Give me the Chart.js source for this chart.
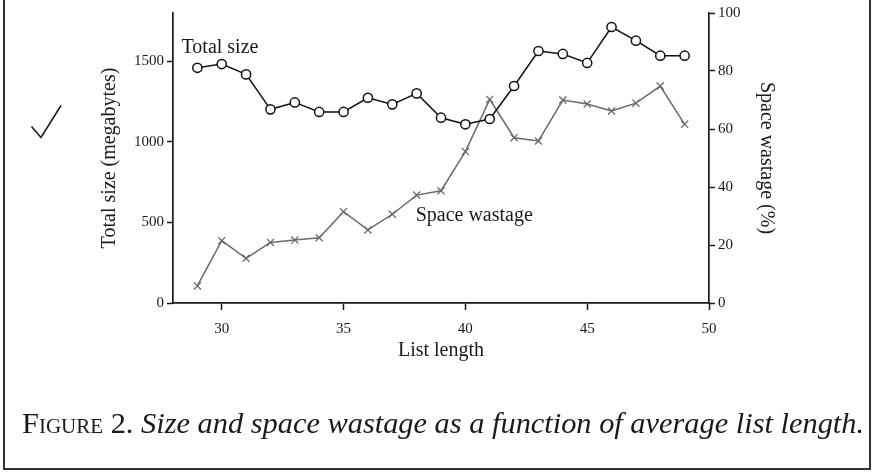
<!DOCTYPE html>
<html>
<head>
<meta charset="utf-8">
<script src="https://cdn.jsdelivr.net/npm/chart.js@4"></script>
<style>
  html, body { margin:0; padding:0; background:#fff; }
  body { width:874px; height:472px; position:relative; overflow:hidden; font-family:"Liberation Serif","Times New Roman",serif; }
  #frame { position:absolute; left:3px; top:-4px; width:864px; height:470px; border:2px solid #333; }
  #c { position:absolute; left:0; top:0; }
  #caption { position:absolute; left:22px; top:413px; font-size:24px; line-height:24px; white-space:nowrap; color:#1a1a1a; }
  #caption .fig { font-style:normal; font-variant:small-caps; }
  #caption i { font-style:italic; }
</style>
</head>
<body>
<div id="frame"></div>
<canvas id="c" width="874" height="472"></canvas>
<div id="caption"><span class="fig">Figure 2.</span> <i>Size and space wastage as a function of average list length.</i></div>
<script>
// ---- data ----
const listLength   = [29,30,31,32,33,34,35,36,37,38,39,40,41,42,43,44,45,46,47,48,49];
const totalSize    = [1460,1483,1419,1202,1245,1186,1186,1274,1233,1301,1150,1109,1142,1347,1564,1546,1490,1713,1628,1535,1535];
const spaceWastage = [5.9,21.5,15.4,20.9,21.7,22.5,31.5,25.2,30.6,37.2,38.7,52.2,70.2,57.0,55.9,70.0,68.6,66.2,68.9,74.8,61.6];
const xTicks        = [30,35,40,45,50];
const sizeTicks     = [0,500,1000,1500];
const wastageTicks  = [0,20,40,60,80,100];
const labelTotal    = 'Total size';
const labelWastage  = 'Space wastage';

const SERIF = '"Liberation Serif","Times New Roman",serif';
const INK = '#1a1a1a';

const decorations = {
  id: 'decorations',
  afterDatasetsDraw(chart) {
    const {ctx, scales:{x, y}} = chart;
    ctx.save();
    ctx.fillStyle = INK;
    ctx.font = '20px ' + SERIF;
    ctx.textBaseline = 'alphabetic';
    ctx.textAlign = 'left';
    ctx.fillText(labelTotal, x.getPixelForValue(28.35), y.getPixelForValue(1550));
    ctx.fillText(labelWastage, x.getPixelForValue(37.96), y.getPixelForValue(510));
    // check mark glyph
    ctx.strokeStyle = INK;
    ctx.lineWidth = 1.6;
    ctx.lineJoin = 'miter';
    ctx.beginPath();
    ctx.moveTo(31.5, 126.5);
    ctx.lineTo(41, 137.5);
    ctx.lineTo(61, 105.5);
    ctx.stroke();
    ctx.restore();
  }
};

function axisCommon(tickLen, pad) {
  return {
    grid: { drawOnChartArea:false, drawTicks:true, tickLength:tickLen, tickWidth:1.5, tickColor:INK },
    border: { display:true, color:INK, width:1.7 },
    ticks: { color:INK, font:{ family:SERIF, size:15 }, padding:pad, callback: v => String(v) },
  };
}

new Chart(document.getElementById('c'), {
  type: 'line',
  data: {
    datasets: [
      {
        label: labelTotal,
        data: listLength.map((v, i) => ({ x:v, y:totalSize[i] })),
        yAxisID: 'y',
        borderColor: '#111',
        borderWidth: 1.5,
        pointStyle: 'circle',
        pointRadius: 4.6,
        pointBorderWidth: 1.5,
        pointBackgroundColor: '#fff',
        pointBorderColor: '#111',
        tension: 0,
      },
      {
        label: labelWastage,
        data: listLength.map((v, i) => ({ x:v, y:spaceWastage[i] })),
        yAxisID: 'y2',
        borderColor: '#6a6a6a',
        borderWidth: 1.5,
        pointStyle: 'crossRot',
        pointRadius: 5,
        pointBorderWidth: 1.3,
        pointBorderColor: '#6a6a6a',
        tension: 0,
      }
    ]
  },
  options: {
    responsive: false,
    animation: false,
    events: [],
    layout: { padding: { left:98, right:96, top:13, bottom:109 } },
    plugins: { legend:{ display:false }, tooltip:{ enabled:false } },
    scales: {
      x: Object.assign(axisCommon(7, 10), {
        type: 'linear', position: 'bottom', min: 28, max: 50,
        afterBuildTicks: s => { s.ticks = xTicks.map(v => ({ value:v })); },
        afterFit: s => { s.height = 60; },
        title: { display:true, text:'List length', color:INK, font:{ family:SERIF, size:20 }, padding:0 },
      }),
      y: Object.assign(axisCommon(6, 3), {
        type: 'linear', position: 'left', min: 0, max: 1800,
        afterBuildTicks: s => { s.ticks = sizeTicks.map(v => ({ value:v })); },
        afterFit: s => { s.width = 75; },
        title: { display:true, text:'Total size (megabytes)', color:INK, font:{ family:SERIF, size:20 }, padding:0 },
      }),
      y2: Object.assign(axisCommon(6, 3), {
        type: 'linear', position: 'right', min: 0, max: 100,
        afterBuildTicks: s => { s.ticks = wastageTicks.map(v => ({ value:v })); },
        afterFit: s => { s.width = 69; },
        title: { display:true, text:'Space wastage (%)', color:INK, font:{ family:SERIF, size:20 }, padding:0 },
      }),
    }
  },
  plugins: [decorations]
});

// fit caption to the width it spans in the reference
(function () {
  const cap = document.getElementById('caption');
  const target = 844;
  const w = cap.getBoundingClientRect().width;
  const size = 24 * target / w;
  cap.style.fontSize = size.toFixed(2) + 'px';
  cap.style.lineHeight = size.toFixed(2) + 'px';
  cap.style.top = (433 - size * 0.84).toFixed(1) + 'px';
})();
</script>
</body>
</html>
